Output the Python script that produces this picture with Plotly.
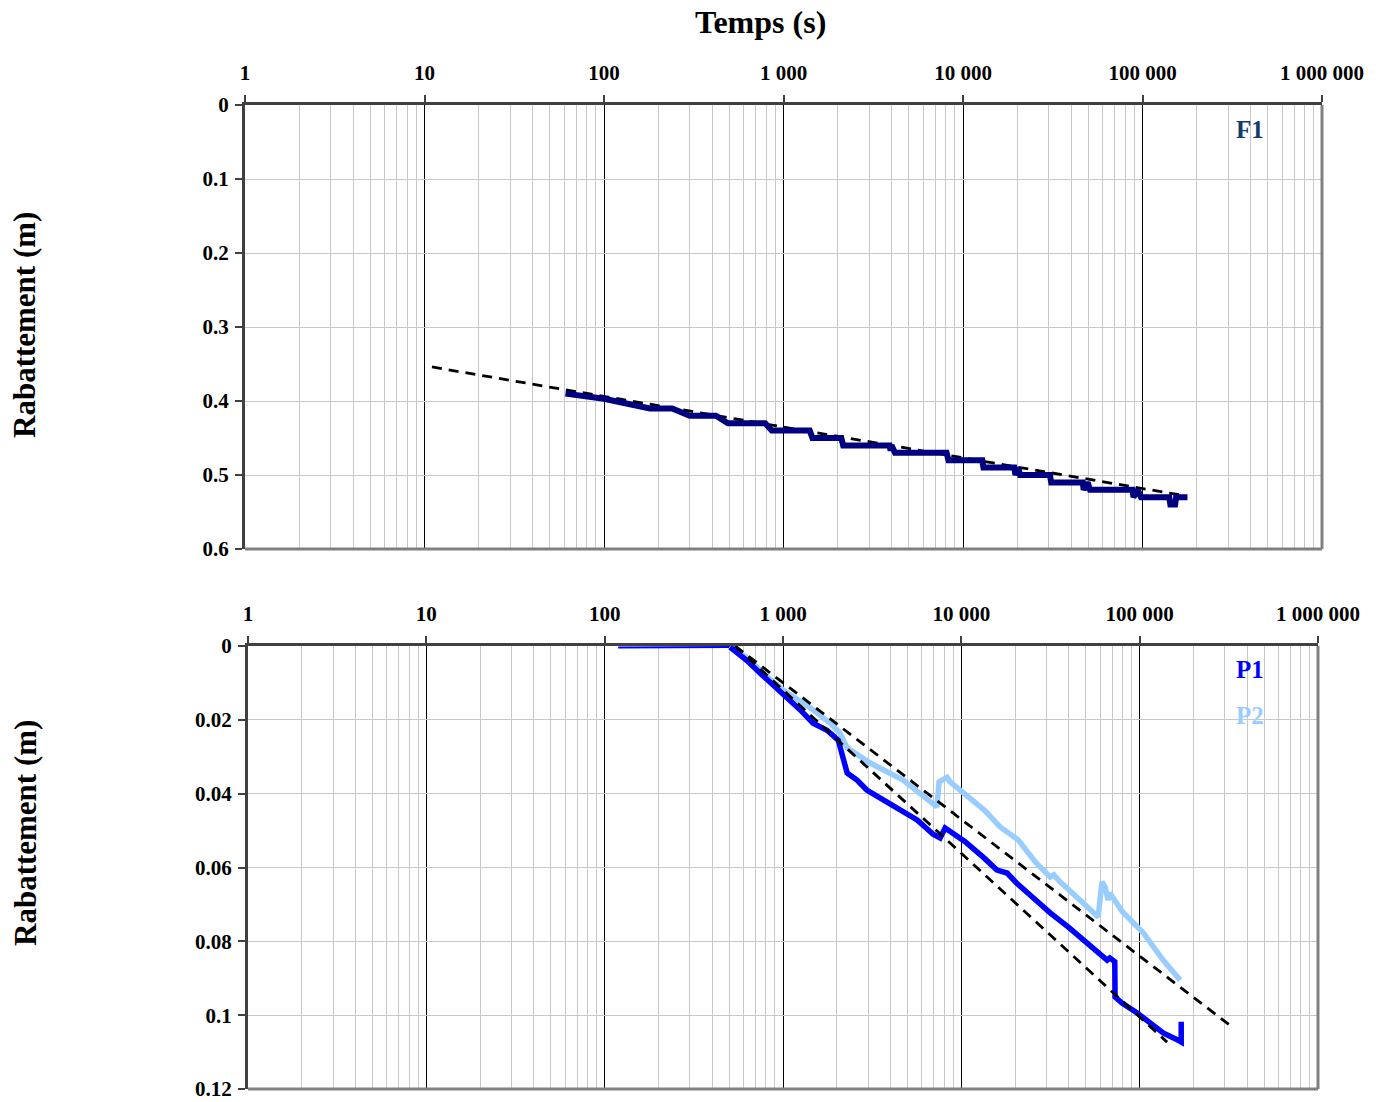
import plotly.graph_objects as go
from plotly.subplots import make_subplots

# ---- F1 : drawdown in the pumped well (m) vs time (s)
f1_t = [61, 100, 180, 240, 300, 420, 490, 790, 860, 1400, 1450, 2100, 2150,
        3900, 3950, 4000, 4180, 8100, 8300, 12800, 13000, 19300, 19600, 20300,
        20800, 30500, 31000, 46500, 47000, 49500, 51000, 88000, 89000, 94000,
        98000, 141000, 143000, 152000, 154000, 178000]
f1_s = [0.390, 0.397, 0.410, 0.410, 0.420, 0.420, 0.430, 0.430, 0.440, 0.440,
        0.450, 0.450, 0.460, 0.460, 0.467, 0.460, 0.470, 0.470, 0.480, 0.480,
        0.490, 0.490, 0.500, 0.490, 0.500, 0.500, 0.510, 0.510, 0.520, 0.510,
        0.520, 0.520, 0.530, 0.520, 0.530, 0.530, 0.540, 0.540, 0.530, 0.530]
# Jacob straight line fitted on F1
f1_fit_t = [11, 172000]
f1_fit_s = [0.354, 0.528]

# ---- P1 : observation piezometer 1
p1_pre_t = [119, 200, 300, 450, 505]
p1_pre_s = [0.0004, 0.0004, 0.0004, 0.0002, 0.0003]
p1_t = [505, 560, 630, 750, 1000, 1250, 1475, 1766, 2040, 2090, 2230, 2290,
        2600, 2950, 3650, 4540, 5650, 6950, 7600, 8110, 9000, 10500, 13250,
        15850, 18060, 20400, 25000, 31500, 40000, 48200, 58000, 65700, 68000,
        71000, 72500, 72800, 80000, 96800, 115000, 135500, 160000, 168700,
        171000, 171000]
p1_s = [0.0003, 0.0020, 0.0040, 0.0075, 0.0128, 0.0173, 0.0209, 0.0228,
        0.0255, 0.0274, 0.0330, 0.0344, 0.0363, 0.0390, 0.0417, 0.0444,
        0.0471, 0.0510, 0.0520, 0.0493, 0.0508, 0.0530, 0.0572, 0.0607,
        0.0615, 0.0642, 0.0680, 0.0723, 0.0762, 0.0796, 0.0830, 0.0851,
        0.0845, 0.0855, 0.0855, 0.0951, 0.0968, 0.0994, 0.1020, 0.1048,
        0.1065, 0.1075, 0.1073, 0.1018]

# ---- P2 : observation piezometer 2
p2_t = [505, 630, 800, 1000, 1400, 1837, 2090, 2290, 3083, 3600, 4720, 5600,
        6950, 7300, 7500, 8000, 8320, 8650, 9850, 13500, 16500, 20800, 26000,
        31500, 33000, 36000, 48200, 58500, 61500, 64000, 66500, 68000, 80000,
        104700, 135000, 168700]
p2_s = [0.0000, 0.0033, 0.0080, 0.0119, 0.0165, 0.0209, 0.0236, 0.0276,
        0.0317, 0.0333, 0.0363, 0.0392, 0.0425, 0.0436, 0.0368, 0.0362,
        0.0356, 0.0368, 0.0390, 0.0445, 0.0490, 0.0525, 0.0585, 0.0626,
        0.0620, 0.0640, 0.0696, 0.0734, 0.0639, 0.0653, 0.0688, 0.0669,
        0.0720, 0.0777, 0.0850, 0.0905]

# Jacob straight lines fitted on P1 and P2
p1_fit_t = [539, 142600]
p1_fit_s = [0.0, 0.1073]
p2_fit_t = [539, 330000]
p2_fit_s = [0.0, 0.1032]

# ---- axis ticks
x_tickvals = [1, 10, 100, 1000, 10000, 100000, 1000000]
x_ticktext = ["1", "10", "100", "1 000", "10 000", "100 000", "1 000 000"]
x_minor = [m * 10 ** k for k in range(6) for m in range(2, 10)]
y1_tickvals = [0, 0.1, 0.2, 0.3, 0.4, 0.5, 0.6]
y1_ticktext = ["0", "0.1", "0.2", "0.3", "0.4", "0.5", "0.6"]
y2_tickvals = [0, 0.02, 0.04, 0.06, 0.08, 0.10, 0.12]
y2_ticktext = ["0", "0.02", "0.04", "0.06", "0.08", "0.1", "0.12"]

FONT = "Liberation Serif"
W, H = 1378, 1102
DASH = dict(color="black", width=2.8, dash="10px,7px")

fig = make_subplots(rows=2, cols=1)

fig.add_trace(go.Scatter(x=f1_fit_t, y=f1_fit_s, mode="lines", line=DASH),
              row=1, col=1)
fig.add_trace(go.Scatter(x=f1_t, y=f1_s, mode="lines",
                         line=dict(color="#000080", width=6)), row=1, col=1)

fig.add_trace(go.Scatter(x=p1_pre_t, y=p1_pre_s, mode="lines",
                         line=dict(color="#0000FF", width=2)), row=2, col=1)
fig.add_trace(go.Scatter(x=p2_t, y=p2_s, mode="lines",
                         line=dict(color="#99CCFF", width=5.5)), row=2, col=1)
fig.add_trace(go.Scatter(x=p1_t, y=p1_s, mode="lines",
                         line=dict(color="#0000FF", width=5.5)), row=2, col=1)
fig.add_trace(go.Scatter(x=p1_fit_t, y=p1_fit_s, mode="lines", line=DASH),
              row=2, col=1)
fig.add_trace(go.Scatter(x=p2_fit_t, y=p2_fit_s, mode="lines", line=DASH),
              row=2, col=1)

tickfont = dict(family=FONT, size=21, color="black", weight="bold")

xcommon = dict(type="log", side="top", range=[0, 6], tickmode="array",
               tickvals=x_tickvals, ticktext=x_ticktext, tickfont=tickfont,
               showgrid=True, gridcolor="black", gridwidth=1,
               minor=dict(tickmode="array", tickvals=x_minor, showgrid=True,
                          gridcolor="#C8C8C8", gridwidth=1, ticks=""),
               showline=True, linecolor="#404040", linewidth=3,
               ticks="outside", ticklen=7, tickcolor="#404040", tickwidth=1.5,
               ticklabelstandoff=7, zeroline=False, automargin=False)
ycommon = dict(tickmode="array", tickfont=tickfont, showgrid=True,
               gridcolor="#C8C8C8", gridwidth=1, showline=True,
               linecolor="#404040", linewidth=3, ticks="outside", ticklen=7,
               tickcolor="#404040", tickwidth=1.5, ticklabelstandoff=2,
               zeroline=False, automargin=False)

fig.update_xaxes(**xcommon)
fig.update_yaxes(**ycommon)

fig.update_layout(
    xaxis=dict(domain=[245 / W, 1322 / W], anchor="y"),
    yaxis=dict(domain=[1 - 549 / H, 1 - 105 / H], range=[0.6, 0],
               tickvals=y1_tickvals, ticktext=y1_ticktext, anchor="x"),
    xaxis2=dict(domain=[248 / W, 1318 / W], anchor="y2"),
    yaxis2=dict(domain=[1 - 1089 / H, 1 - 646 / H], range=[0.12, 0],
                tickvals=y2_tickvals, ticktext=y2_ticktext, anchor="x2"),
)

# right and bottom frame of each plot area
for xr, yr in (("x domain", "y domain"), ("x2 domain", "y2 domain")):
    fig.add_shape(type="line", xref=xr, yref=yr, x0=1, x1=1, y0=0, y1=1,
                  line=dict(color="#808080", width=3), layer="above")
    fig.add_shape(type="line", xref=xr, yref=yr, x0=0, x1=1, y0=0, y1=0,
                  line=dict(color="#808080", width=3), layer="above")

ann = []
ann.append(dict(text="<b>Temps (s)</b>", xref="paper", yref="paper",
                x=760 / W, y=1 - 22 / H, xanchor="center", yanchor="middle",
                showarrow=False,
                font=dict(family=FONT, size=32, color="black")))
for yc in (325, 833):
    ann.append(dict(text="<b>Rabattement (m)</b>", xref="paper", yref="paper",
                    x=25 / W, y=1 - yc / H, xanchor="center",
                    yanchor="middle", showarrow=False, textangle=-90,
                    font=dict(family=FONT, size=31, color="black")))
lab = [("F1", "x domain", "y domain", 0.933, 0.944, "#0E3C6E"),
       ("P1", "x2 domain", "y2 domain", 0.936, 0.948, "#0000FF"),
       ("P2", "x2 domain", "y2 domain", 0.936, 0.842, "#99CCFF")]
for txt, xr, yr, xx, yy, col in lab:
    ann.append(dict(text="<b>%s</b>" % txt, xref=xr, yref=yr, x=xx, y=yy,
                    xanchor="center", yanchor="middle", showarrow=False,
                    font=dict(family=FONT, size=25, color=col)))

fig.update_layout(
    width=W, height=H, margin=dict(l=0, r=0, t=0, b=0, autoexpand=False),
    paper_bgcolor="white", plot_bgcolor="white", showlegend=False,
    annotations=ann, font=dict(family=FONT),
)

fig.write_html("out.html")
